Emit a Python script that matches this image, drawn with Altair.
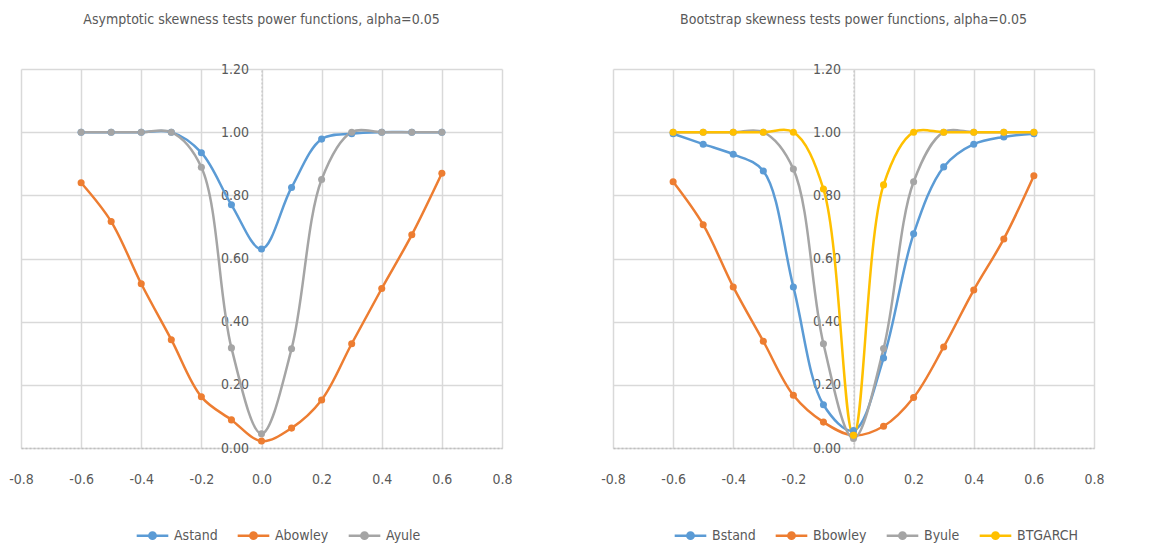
import altair as alt
import pandas as pd

x_vals = [-0.6, -0.5, -0.4, -0.3, -0.2, -0.1, 0.0, 0.1, 0.2, 0.3, 0.4, 0.5, 0.6]

# Asymptotic panel
astand = [1.00, 1.00, 1.00, 1.00, 0.935, 0.77, 0.63, 0.825, 0.978, 0.995, 1.0, 1.0, 1.0]
abowley = [0.84, 0.717, 0.52, 0.343, 0.162, 0.089, 0.022, 0.063, 0.152, 0.33, 0.505, 0.675, 0.87]
ayule = [1.0, 1.0, 1.0, 1.0, 0.889, 0.317, 0.045, 0.314, 0.85, 1.0, 1.0, 1.0, 1.0]

# Bootstrap panel
bstand = [0.995, 0.962, 0.93, 0.877, 0.51, 0.137, 0.055, 0.285, 0.678, 0.89, 0.962, 0.985, 0.995]
bbowley = [0.843, 0.707, 0.51, 0.338, 0.167, 0.082, 0.04, 0.069, 0.16, 0.32, 0.50, 0.662, 0.862]
byule = [1.0, 1.0, 1.0, 1.0, 0.883, 0.33, 0.03, 0.315, 0.843, 1.0, 1.0, 1.0, 1.0]
btgarch = [1.0, 1.0, 1.0, 1.0, 1.0, 0.82, 0.04, 0.833, 1.0, 1.0, 1.0, 1.0, 1.0]

x_ticks = [-0.8, -0.6, -0.4, -0.2, 0.0, 0.2, 0.4, 0.6, 0.8]
y_ticks = [0.0, 0.2, 0.4, 0.6, 0.8, 1.0, 1.2]

BLUE, ORANGE, GRAY, YELLOW = "#5B9BD5", "#ED7D31", "#A5A5A5", "#FFC000"
TXT = "#595959"
GRID = "#D9D9D9"
SYMBOL = "M-1,0L-0.2,0M0.2,0L1,0M-0.2,0a0.2,0.2 0 1,0 0.4,0a0.2,0.2 0 1,0 -0.4,0"
FONT = "Liberation Sans Narrow, DejaVu Sans Condensed, Roboto Condensed, Roboto, sans-serif"

W, H = 481, 379


def panel(title, names, series, colors, legend_x):
    rows = []
    for n, vals in zip(names, series):
        for xv, v in zip(x_vals, vals):
            rows.append({"x": xv, "v": v, "s": n})
    df = pd.DataFrame(rows)
    base = alt.Chart(df).encode(
        x=alt.X("x:Q", scale=alt.Scale(domain=[-0.8, 0.8], nice=False, zero=False),
                axis=alt.Axis(values=x_ticks, title=None, ticks=False,
                              labelExpr="replace(format(datum.value, '.1f'), '\u2212', '-')",
                              labelFlush=False, labelOverlap=False,
                              grid=True, gridColor=GRID, gridWidth=1.5,
                              domainColor="#BFBFBF", domainDash=[2, 2], domainWidth=1.5,
                              labelPadding=24, labelFontSize=14, labelColor=TXT)),
        y=alt.Y("v:Q", scale=alt.Scale(domain=[0, 1.2], nice=False),
                axis=alt.Axis(values=y_ticks, format=".2f", title=None, ticks=False,
                              grid=True, gridColor=GRID, gridWidth=1.5,
                              offset=-W / 2, domainColor="#BFBFBF", domainDash=[2, 2],
                              domainWidth=1, labelPadding=13, labelFontSize=14,
                              labelColor=TXT, labelOverlap=False)),
        color=alt.Color("s:N", scale=alt.Scale(domain=names, range=colors),
                        legend=alt.Legend(orient="none", legendX=legend_x, legendY=449,
                                          direction="horizontal", title=None,
                                          symbolType=SYMBOL, symbolSize=1000,
                                          symbolStrokeWidth=2.5, labelFontSize=14,
                                          labelColor=TXT, columnPadding=14)),
    )
    line = base.mark_line(interpolate="catmull-rom", strokeWidth=2.5)
    pts = base.mark_point(filled=True, size=50, opacity=1)
    return alt.layer(line, pts).properties(
        width=W, height=H,
        title=alt.TitleParams(title, fontSize=14, fontWeight="normal", color=TXT, offset=35),
    )


left = panel("Asymptotic skewness tests power functions, alpha=0.05",
             ["Astand", "Abowley", "Ayule"], [astand, abowley, ayule],
             [BLUE, ORANGE, GRAY], 114)
right = panel("Bootstrap skewness tests power functions, alpha=0.05",
              ["Bstand", "Bbowley", "Byule", "BTGARCH"], [bstand, bbowley, byule, btgarch],
              [BLUE, ORANGE, GRAY, YELLOW], 60)

chart = alt.hconcat(left, right, spacing=87).resolve_scale(color="independent").properties(
    padding={"left": 0, "top": 5, "right": 5, "bottom": 0}
).configure(
    font=FONT
).configure_view(stroke=None)

chart.save("out.html", embed_options={"renderer": "svg", "actions": False})
